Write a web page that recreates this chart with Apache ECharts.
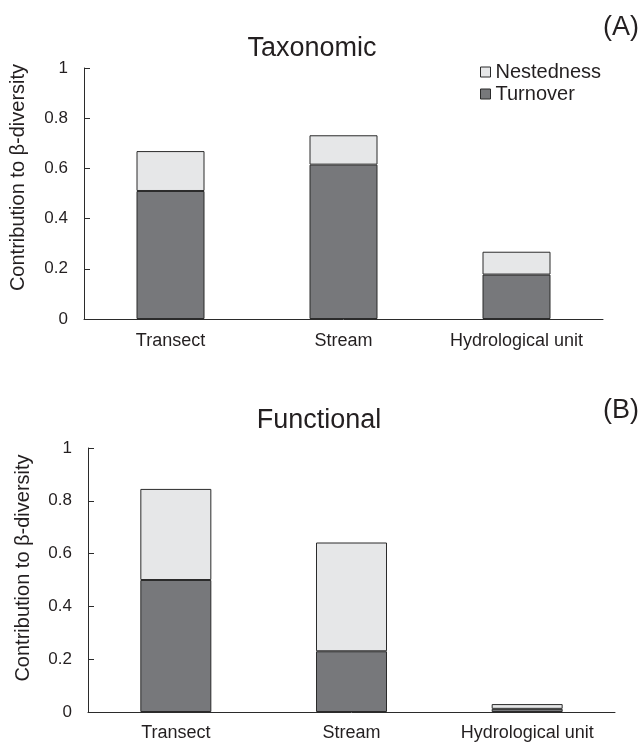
<!DOCTYPE html>
<html><head><meta charset="utf-8">
<script src="https://cdn.jsdelivr.net/npm/echarts@6/dist/echarts.min.js"></script>
<style>html,body{margin:0;padding:0;background:#fff}#c{width:640px;height:744px}</style>
</head><body><div id="c"></div>
<script>
const categories = ['Transect', 'Stream', 'Hydrological unit'];
const taxTurnover = [0.51, 0.615, 0.177];
const taxNestedness = [0.159, 0.117, 0.091];
const funTurnover = [0.50, 0.23, 0.012];
const funNestedness = [0.345, 0.412, 0.018];
const yMin = 0, yMax = 1, yStep = 0.2;
const yName = 'Contribution to β-diversity';
const panelTitles = ['Taxonomic', 'Functional'];
const panelTags = ['(A)', '(B)'];
const legendNames = ['Nestedness', 'Turnover'];

const FONT = 'Liberation Sans, Arial, sans-serif';
const TXT = '#231f20';
const DARK = '#77787b';
const LIGHT = '#e6e7e8';
const EDGE = '#2b2b2b';

function xAx(idx, margin) {
  return {
    type: 'category', gridIndex: idx, data: categories, boundaryGap: true,
    axisLine: {lineStyle: {color: EDGE, width: 1}},
    axisTick: {show: false},
    axisLabel: {color: TXT, fontFamily: FONT, fontSize: 18, margin: margin}
  };
}
function yAx(idx, gap, shift) {
  return {
    type: 'value', gridIndex: idx, min: yMin, max: yMax, interval: yStep,
    name: yName, nameLocation: 'middle', nameGap: gap,
    nameTextStyle: {color: TXT, fontFamily: FONT, fontSize: 20, padding: [0, 0, 0, shift]},
    axisLine: {show: true, lineStyle: {color: EDGE, width: 1}},
    axisTick: {show: true, inside: true, length: 6, lineStyle: {color: EDGE}},
    splitLine: {show: false},
    axisLabel: {color: TXT, fontFamily: FONT, fontSize: 17, margin: 16}
  };
}
function bar(name, data, idx, stack, color, width) {
  return {
    name: name, type: 'bar', stack: stack, xAxisIndex: idx, yAxisIndex: idx,
    data: data, barWidth: width,
    itemStyle: {color: color, borderColor: EDGE, borderWidth: 1},
    emphasis: {disabled: true}
  };
}

const chart = echarts.init(document.getElementById('c'), null, {renderer: 'canvas'});
chart.setOption({
  animation: false,
  backgroundColor: '#fff',
  title: [
    {text: panelTitles[0], left: 312, top: 35, textAlign: 'center', padding: 0,
     textStyle: {color: TXT, fontFamily: FONT, fontSize: 27, fontWeight: 'normal'}},
    {text: panelTitles[1], left: 319, top: 407, textAlign: 'center', padding: 0,
     textStyle: {color: TXT, fontFamily: FONT, fontSize: 27, fontWeight: 'normal'}},
    {text: panelTags[0], right: 1, top: 14, padding: 0,
     textStyle: {color: TXT, fontFamily: FONT, fontSize: 27, fontWeight: 'normal'}},
    {text: panelTags[1], right: 1, top: 397, padding: 0,
     textStyle: {color: TXT, fontFamily: FONT, fontSize: 27, fontWeight: 'normal'}}
  ],
  legend: {
    data: legendNames, orient: 'vertical', left: 480, top: 62, padding: 0,
    icon: 'rect', itemWidth: 10, itemHeight: 10, itemGap: 2,
    textStyle: {color: TXT, fontFamily: FONT, fontSize: 20},
    itemStyle: {borderColor: EDGE, borderWidth: 1},
    selectedMode: false
  },
  grid: [
    {left: 84, right: 37, top: 68, height: 251},
    {left: 88, right: 25, top: 448, height: 264}
  ],
  xAxis: [xAx(0, 13), xAx(1, 12)],
  yAxis: [yAx(0, 56, 32), yAx(1, 55, 24)],
  series: [
    bar('Turnover', taxTurnover, 0, 'tax', DARK, 68),
    bar('Nestedness', taxNestedness, 0, 'tax', LIGHT, 68),
    bar('Turnover', funTurnover, 1, 'fun', DARK, 71),
    bar('Nestedness', funNestedness, 1, 'fun', LIGHT, 71)
  ]
});
</script>
</body></html>
